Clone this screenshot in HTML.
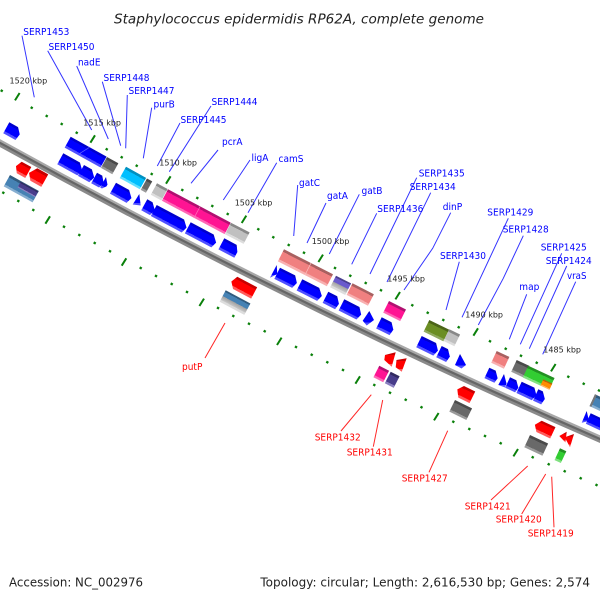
<!DOCTYPE html>
<html><head><meta charset="utf-8"><style>
html,body{margin:0;padding:0;background:#fff;width:600px;height:600px;overflow:hidden}
svg{display:block}
text{font-family:"DejaVu Sans","Liberation Sans",sans-serif}
.b text{font-size:10px;fill:#0000ff}
.r text{font-size:10px;fill:#ff0000}
.k text{font-size:8px;fill:#222}
</style></head><body>
<svg xmlns="http://www.w3.org/2000/svg" width="600" height="600" viewBox="0 0 600 600">
<defs>
<linearGradient id="bl" x1="0" y1="0" x2="0" y2="1"><stop offset=".2" stop-color="#0000cc"/><stop offset=".2" stop-color="#0000ff"/><stop offset=".8" stop-color="#0000ff"/><stop offset=".8" stop-color="#5050ff"/></linearGradient>
<linearGradient id="re" x1="0" y1="0" x2="0" y2="1"><stop offset=".2" stop-color="#c80000"/><stop offset=".2" stop-color="#ff0000"/><stop offset=".8" stop-color="#ff0000"/><stop offset=".8" stop-color="#ff5a5a"/></linearGradient>
<linearGradient id="pi" x1="0" y1="0" x2="0" y2="1"><stop offset=".2" stop-color="#b01070"/><stop offset=".2" stop-color="#ff1493"/><stop offset=".82" stop-color="#ff1493"/><stop offset=".82" stop-color="#ff66b5"/></linearGradient>
<linearGradient id="sa" x1="0" y1="0" x2="0" y2="1"><stop offset=".2" stop-color="#a86060"/><stop offset=".2" stop-color="#f08080"/><stop offset=".82" stop-color="#f08080"/><stop offset=".82" stop-color="#f8b0b0"/></linearGradient>
<linearGradient id="lg" x1="0" y1="0" x2="0" y2="1"><stop offset=".2" stop-color="#888"/><stop offset=".2" stop-color="#c0c0c0"/><stop offset=".82" stop-color="#c0c0c0"/><stop offset=".82" stop-color="#ddd"/></linearGradient>
<linearGradient id="dg" x1="0" y1="0" x2="0" y2="1"><stop offset=".2" stop-color="#4a4a4a"/><stop offset=".2" stop-color="#696969"/><stop offset=".82" stop-color="#696969"/><stop offset=".82" stop-color="#9a9a9a"/></linearGradient>
<linearGradient id="cy" x1="0" y1="0" x2="0" y2="1"><stop offset=".2" stop-color="#0090c0"/><stop offset=".2" stop-color="#00bfff"/><stop offset=".82" stop-color="#00bfff"/><stop offset=".82" stop-color="#60dfff"/></linearGradient>
<linearGradient id="ol" x1="0" y1="0" x2="0" y2="1"><stop offset=".2" stop-color="#4b6418"/><stop offset=".2" stop-color="#6b8e23"/><stop offset=".82" stop-color="#6b8e23"/><stop offset=".82" stop-color="#90aa60"/></linearGradient>
<linearGradient id="gr" x1="0" y1="0" x2="0" y2="1"><stop offset=".2" stop-color="#239023"/><stop offset=".2" stop-color="#32cd32"/><stop offset=".82" stop-color="#32cd32"/><stop offset=".82" stop-color="#80e080"/></linearGradient>
<linearGradient id="or" x1="0" y1="0" x2="0" y2="1"><stop offset=".2" stop-color="#b86500"/><stop offset=".2" stop-color="#ff8c00"/><stop offset=".8" stop-color="#ff8c00"/><stop offset=".8" stop-color="#ffb860"/></linearGradient>
<linearGradient id="st" x1="0" y1="0" x2="0" y2="1"><stop offset=".14" stop-color="#315b7e"/><stop offset=".14" stop-color="#4682b4"/><stop offset=".5" stop-color="#4682b4"/><stop offset=".5" stop-color="#a0a0a0"/><stop offset=".82" stop-color="#c8c8c8"/><stop offset=".82" stop-color="#ddd"/></linearGradient>
<linearGradient id="ss" x1="0" y1="0" x2="0" y2="1"><stop offset=".2" stop-color="#315b7e"/><stop offset=".2" stop-color="#4682b4"/><stop offset=".82" stop-color="#4682b4"/><stop offset=".82" stop-color="#86aed0"/></linearGradient>
<linearGradient id="pu" x1="0" y1="0" x2="0" y2="1"><stop offset=".2" stop-color="#322b61"/><stop offset=".2" stop-color="#483d8b"/><stop offset=".82" stop-color="#483d8b"/><stop offset=".82" stop-color="#8a80c0"/></linearGradient>
<linearGradient id="pg" x1="0" y1="0" x2="0" y2="1"><stop offset=".14" stop-color="#4a3f90"/><stop offset=".14" stop-color="#6a5acd"/><stop offset=".5" stop-color="#6a5acd"/><stop offset=".5" stop-color="#a0a0a0"/><stop offset=".82" stop-color="#c8c8c8"/><stop offset=".82" stop-color="#ddd"/></linearGradient>
</defs>

<text x="114" y="23.5" font-size="13.5" font-style="italic" textLength="370" lengthAdjust="spacingAndGlyphs" fill="#222">Staphylococcus epidermidis RP62A, complete genome</text>

<!-- backbone -->
<path d="M-2 139.5Q300 306.5 602 437.5" fill="none" stroke="#a8a8a8" stroke-width="2.6"/>
<path d="M-2 142Q300 309 602 440" fill="none" stroke="#666" stroke-width="2.6"/>
<path d="M-2 144.5Q300 311.5 602 442.5" fill="none" stroke="#8a8a8a" stroke-width="2.6"/>

<!-- rulers -->
<g fill="none" stroke="#0a800a">
<path stroke-width="2.4" d="M1.1 91.7l1.2-2M31.1 108.7l1.2-2M46.1 117l1.2-2M61.1 125l1.2-2M76.1 133.7l1.2-2M106.1 150.3l1.2-2M121.1 158.3l1.2-2M136.1 166.7l1.2-2M151.1 175l1.2-2M181.7 191l1.2-2M196.7 199l1.2-2M211.7 207l1.2-2M227.1 215l1.2-2M257.7 230.3l1.2-2M272.7 238.3l1.2-2M288.1 246l1.2-2M303.4 253.7l1.2-2M334.4 269l1.2-2M349.7 276.7l1.2-2M365.1 284l1.2-2M380.4 291.3l1.2-2M411.7 306.3l1.2-2M427.1 313.7l1.2-2M442.7 321l1.2-2M458.1 328.3l1.2-2M489.4 342.3l1.2-2M505.1 349.7l1.2-2M520.4 356.7l1.2-2M536.1 363.7l1.2-2M567.7 377.7l1.2-2M583.1 384.7l1.2-2M598.4 391.5l1.2-2"/>
<path stroke-width="2.4" d="M2.7 193.7l1.2-2M17.7 202l1.2-2M32.7 211l1.2-2M63.4 227.7l1.2-2M78.7 236l1.2-2M94.1 244l1.2-2M109.4 252.3l1.2-2M140.1 269l1.2-2M155.4 277l1.2-2M171.1 285l1.2-2M186.4 293l1.2-2M217.4 309l1.2-2M232.7 317l1.2-2M248.4 324.7l1.2-2M264.1 332.3l1.2-2M295.4 348l1.2-2M311.1 355.7l1.2-2M326.7 363.3l1.2-2M342.4 371l1.2-2M373.7 386l1.2-2M389.4 393.7l1.2-2M405.1 400.7l1.2-2M420.9 408.3l1.2-2M452.7 422.7l1.2-2M468.7 430l1.2-2M484.4 437l1.2-2M500.1 444.3l1.2-2M532.1 458.3l1.2-2M548.1 465.3l1.2-2M564.1 472.3l1.2-2M580.1 479.3l1.2-2M595.9 486l1.2-2"/>
<path stroke-width="2" d="M15 100.4l4.6-7.4M90.4 142.7l4.6-7.4M166 183.7l4.6-7.4M241.7 223l4.6-7.4M318.4 262l4.6-7.4M395.4 299.4l4.6-7.4M473.4 335.7l4.6-7.4M551 371.4l4.6-7.4"/>
<path stroke-width="2" d="M45.4 223.7l4.6-7.4M121.7 265.7l4.6-7.4M199.4 306l4.6-7.4M277 345l4.6-7.4M355.4 383.7l4.6-7.4M434 420.4l4.6-7.4M513.4 456.4l4.6-7.4"/>
</g>

<!-- genes, top row -->
<g>
<path transform="translate(9.3,122.3) rotate(29)" d="M0 0H10L15 5.5 14 12.5H0Z" fill="url(#bl)"/>
<path transform="translate(70.7,136.7) rotate(29)" d="M0 0H41V12.5H0Z" fill="url(#bl)"/>
<path transform="translate(90,147) rotate(29)" d="M0 0L-6 11" stroke="#6a6aff" stroke-width=".7" fill="none"/>
<path transform="translate(107,157) rotate(29)" d="M0 0H13V12.5H0Z" fill="url(#dg)"/>
<path transform="translate(126,166.7) rotate(29)" d="M0 0H23V13H0Z" fill="url(#cy)"/>
<path transform="translate(147,178.5) rotate(29)" d="M0 0H6V13H0Z" fill="url(#dg)"/>
<path transform="translate(157,183.3) rotate(28.5)" d="M0 0H12V13H0Z" fill="url(#lg)"/>
<path transform="translate(168,189.3) rotate(28)" d="M0 0H71V13H0Z" fill="url(#pi)"/>
<path d="M200 206.7L194 218" stroke="#ff77bb" stroke-width=".7" fill="none"/>
<path transform="translate(231,222.7) rotate(27.5)" d="M0 0H21V13H0Z" fill="url(#lg)"/>
<path transform="translate(284,249.3) rotate(27)" d="M0 0H55V13.5H0Z" fill="url(#sa)"/>
<path d="M311 263L305 275" stroke="#f8c0c0" stroke-width=".7" fill="none"/>
<path transform="translate(336,275.7) rotate(27)" d="M0 0H17V13H0Z" fill="url(#pg)"/>
<path transform="translate(352.5,283.3) rotate(27)" d="M0 0H24V13H0Z" fill="url(#sa)"/>
<path transform="translate(389,301) rotate(26.5)" d="M0 0H19V13H0Z" fill="url(#pi)"/>
<path transform="translate(429.3,320) rotate(26)" d="M0 0H22V13H0Z" fill="url(#ol)"/>
<path transform="translate(449.3,329.3) rotate(26)" d="M0 0H12V13H0Z" fill="url(#lg)"/>
<path transform="translate(496.7,351) rotate(25)" d="M0 0H14V13H0Z" fill="url(#sa)"/>
<path transform="translate(516.7,360) rotate(25)" d="M0 0H14V13H0Z" fill="url(#dg)"/>
<path transform="translate(528.3,365.7) rotate(25)" d="M0 0H29V6.5H20V13H0Z" fill="url(#gr)"/>
<path transform="translate(543.3,379.3) rotate(25)" d="M0 0H10V7H0Z" fill="url(#or)"/>
<path transform="translate(595,394.3) rotate(25)" d="M0 0H30V13H0Z" fill="url(#ss)"/>
<path transform="translate(595,394.3) rotate(25)" d="M0 0H2V13H0Z" fill="#777"/>

<!-- blue row -->
<g fill="url(#bl)">
<path transform="translate(63.3,153.3) rotate(29)" d="M0 0H19L25 6 23 12.5H0Z"/>
<path transform="translate(84,165) rotate(29)" d="M0 0H9L15 6 13 12.5H0Z"/>
<path transform="translate(97,172.7) rotate(29)" d="M0 0H6L11 6 9 12H0Z"/>
<path transform="translate(106,177) rotate(29)" d="M0 0L5 6 5 8 2 12H0Z"/>
<path transform="translate(116,182.7) rotate(29)" d="M0 0H15L21 6 19 12.5H0Z"/>
<path d="M139.3 194L132.7 204.5 140.7 205.5Z"/>
<path transform="translate(147.3,199.3) rotate(29)" d="M0 0H6L12 6 10 12.5H0Z"/>
<path transform="translate(156.7,205) rotate(28)" d="M0 0H31L37 6 35 12.5H0Z"/>
<path transform="translate(190.7,222.3) rotate(28)" d="M0 0H26L32 6 30 12.5H0Z"/>
<path transform="translate(224.3,238.3) rotate(28)" d="M0 0H14L18 6 18 12.5H0Z"/>
<path d="M276.7 265L277.3 274 270 277.7Z"/>
<path transform="translate(280,267.7) rotate(27)" d="M0 0H17L22 6 20 12.5H0Z"/>
<path transform="translate(302.3,279.3) rotate(27)" d="M0 0H19L25 6 23 12.5H0Z"/>
<path transform="translate(328.3,291.7) rotate(27)" d="M0 0H10L15 6 14 12.5H0Z"/>
<path transform="translate(344.3,299.3) rotate(27)" d="M0 0H17L22 6 20 12.5H0Z"/>
<path d="M369.3 311L374 320 366.7 325.5 362.7 320.7Z"/>
<path transform="translate(381.7,317.3) rotate(26.5)" d="M0 0H11L16 6 15 12.5H0Z"/>
<path transform="translate(421.7,336) rotate(26)" d="M0 0H16L21 6 19 12.5H0Z"/>
<path transform="translate(441.7,346) rotate(26)" d="M0 0H7L12 6 11 12.5H0Z"/>
<path d="M460 354L466 365 461.5 368.5 455 365Z"/>
<path transform="translate(489.3,367.7) rotate(25)" d="M0 0H7L12 6 11 11.5H0Z"/>
<path d="M504 374L506.5 383.5 505 387.5 498.3 385Z"/>
<path transform="translate(510,377.3) rotate(25)" d="M0 0H7L12 6 11 11.5H0Z"/>
<path transform="translate(521.7,381.7) rotate(25)" d="M0 0H14L19 6 17 12.5H0Z"/>
<path transform="translate(538.3,389.3) rotate(25)" d="M0 0H5L10 6 9 12.5H0Z"/>
<path d="M586.7 411L589 421 581.7 422.7Z"/>
<path transform="translate(590.7,413.3) rotate(25)" d="M0 0H30V11.5H0Z"/>
</g>

<!-- lower strand -->
<path transform="translate(21.7,161.7) rotate(29)" d="M0 0H11V12.5H1.3L-2.9 6.6Z" fill="url(#re)"/>
<path transform="translate(37.3,168.3) rotate(29)" d="M0 0H12.5V14.3H0L-5 8Z" fill="url(#re)"/>
<path transform="translate(10,175) rotate(29)" d="M0 0H33V13H0Z" fill="url(#ss)"/>
<path transform="translate(20.7,181.7) rotate(29)" d="M0 0H20V6.5H0Z" fill="url(#pu)"/>
<path transform="translate(237.3,276.7) rotate(28)" d="M0 0H22.5V12.8H2L-3 7Z" fill="url(#re)"/>
<path transform="translate(225.7,290.3) rotate(28)" d="M0 0H28V13H0Z" fill="url(#st)"/>
<path d="M385 355L395.7 352.3 391.7 366.7 384.3 360Z" fill="url(#re)"/>
<path d="M396.5 360L406.7 358.3 401.7 371.7 395.7 367.3Z" fill="url(#re)"/>
<path transform="translate(379.3,365.7) rotate(27)" d="M0 0H11V13H0Z" fill="url(#pi)"/>
<path transform="translate(390.7,371.7) rotate(27)" d="M0 0H10V13H0Z" fill="url(#pu)"/>
<path transform="translate(464,386) rotate(26)" d="M0 0H12.5V13H0L-4.5 6Z" fill="url(#re)"/>
<path transform="translate(455,400) rotate(26)" d="M0 0H19V13H0Z" fill="url(#dg)"/>
<path transform="translate(541.7,420.7) rotate(25)" d="M0 0H15.2V12.5H0L-4.5 6.5Z" fill="url(#re)"/>
<path transform="translate(530,435) rotate(25)" d="M0 0H20V13.5H0Z" fill="url(#dg)"/>
<path d="M566.7 431.7L565.5 442.5 559.3 436Z" fill="url(#re)"/>
<path d="M574 434L570 447.3 564.7 437.3Z" fill="url(#re)"/>
<path transform="translate(560,448.3) rotate(25)" d="M0 0H7V13H0Z" fill="url(#gr)"/>
</g>

<!-- connectors -->
<g fill="none" stroke="#0000ff" stroke-width="1" opacity=".8">
<path d="M22 35.7L34.3 97.3M47.7 50.7L91.7 130M76.7 66L108.3 139M102.3 81.7L120.7 145.7M127.3 95L125.7 148.3M151.7 107.7L143.3 158.3M180 123L157.3 166M211 106L169.3 171.7M218 150L191 183.3M250 160L223.3 200M276.7 162.7L248 212.7M297.7 185L293.7 236M326 203L307 243M359.3 194.3L329.3 254M376.7 213.3L351.7 264.3M416.7 177.7L370 274M430.7 192.7L387 282M450.7 212.7L432.7 248.3L404 290M459.3 261.7L446 310M508.3 218.3L462 317.3M523.3 235.7L503.3 278.3L478.3 325M526.7 294.3L509.3 339.3M561.7 253.3L520.3 344.3M566.7 266L529.3 348.7M575.7 281.7L542.7 354.3"/>
</g>
<g fill="none" stroke="#ff0000" stroke-width="1" opacity=".85">
<path d="M225 323L205 358M371.3 394.7L341 431M382.7 400L373.3 446.7M447.7 430.7L429 472.3M527.7 466L491 500M545.7 474L521.7 514M551.7 476.7L554 527.3"/>
</g>

<!-- ruler labels -->
<g class="k">
<text x="9.5" y="83.5">1520 kbp</text>
<text x="83.3" y="125.7">1515 kbp</text>
<text x="159.3" y="165.7">1510 kbp</text>
<text x="234.7" y="205.7">1505 kbp</text>
<text x="311.7" y="244">1500 kbp</text>
<text x="387.3" y="281.7">1495 kbp</text>
<text x="465.3" y="317.7">1490 kbp</text>
<text x="543.3" y="352.7">1485 kbp</text>
</g>

<!-- blue labels -->
<g class="b" lengthAdjust="spacingAndGlyphs">
<text x="23.3" y="35" textLength="46" lengthAdjust="spacingAndGlyphs">SERP1453</text>
<text x="48.5" y="50" textLength="46" lengthAdjust="spacingAndGlyphs">SERP1450</text>
<text x="78" y="65.5" textLength="22.5" lengthAdjust="spacingAndGlyphs">nadE</text>
<text x="103.5" y="81" textLength="46" lengthAdjust="spacingAndGlyphs">SERP1448</text>
<text x="128.5" y="94" textLength="46" lengthAdjust="spacingAndGlyphs">SERP1447</text>
<text x="153.5" y="107.7" textLength="21.3" lengthAdjust="spacingAndGlyphs">purB</text>
<text x="211.5" y="105" textLength="46" lengthAdjust="spacingAndGlyphs">SERP1444</text>
<text x="180.5" y="123" textLength="46" lengthAdjust="spacingAndGlyphs">SERP1445</text>
<text x="222" y="145" textLength="20.5" lengthAdjust="spacingAndGlyphs">pcrA</text>
<text x="251.5" y="161" textLength="17" lengthAdjust="spacingAndGlyphs">ligA</text>
<text x="278.5" y="162" textLength="25" lengthAdjust="spacingAndGlyphs">camS</text>
<text x="299" y="186" textLength="21" lengthAdjust="spacingAndGlyphs">gatC</text>
<text x="327" y="199" textLength="21" lengthAdjust="spacingAndGlyphs">gatA</text>
<text x="361.5" y="194" textLength="21" lengthAdjust="spacingAndGlyphs">gatB</text>
<text x="377.3" y="212" textLength="46" lengthAdjust="spacingAndGlyphs">SERP1436</text>
<text x="418.7" y="176.5" textLength="46" lengthAdjust="spacingAndGlyphs">SERP1435</text>
<text x="409.7" y="190" textLength="46" lengthAdjust="spacingAndGlyphs">SERP1434</text>
<text x="442.7" y="210" textLength="19.5" lengthAdjust="spacingAndGlyphs">dinP</text>
<text x="440" y="259" textLength="46" lengthAdjust="spacingAndGlyphs">SERP1430</text>
<text x="487.3" y="215.7" textLength="46" lengthAdjust="spacingAndGlyphs">SERP1429</text>
<text x="502.7" y="232.7" textLength="46" lengthAdjust="spacingAndGlyphs">SERP1428</text>
<text x="540.7" y="250.7" textLength="46" lengthAdjust="spacingAndGlyphs">SERP1425</text>
<text x="545.7" y="264" textLength="46" lengthAdjust="spacingAndGlyphs">SERP1424</text>
<text x="567" y="279" textLength="19.5" lengthAdjust="spacingAndGlyphs">vraS</text>
<text x="519.3" y="290" textLength="20" lengthAdjust="spacingAndGlyphs">map</text>
</g>

<!-- red labels -->
<g class="r">
<text x="182" y="370" textLength="20.4" lengthAdjust="spacingAndGlyphs">putP</text>
<text x="314.7" y="440.7" textLength="46" lengthAdjust="spacingAndGlyphs">SERP1432</text>
<text x="346.7" y="455.7" textLength="46" lengthAdjust="spacingAndGlyphs">SERP1431</text>
<text x="401.7" y="481.7" textLength="46" lengthAdjust="spacingAndGlyphs">SERP1427</text>
<text x="464.7" y="509.7" textLength="46" lengthAdjust="spacingAndGlyphs">SERP1421</text>
<text x="495.7" y="522.7" textLength="46" lengthAdjust="spacingAndGlyphs">SERP1420</text>
<text x="527.7" y="536.7" textLength="46" lengthAdjust="spacingAndGlyphs">SERP1419</text>
</g>

<text x="9" y="586.5" font-size="12" textLength="134" lengthAdjust="spacingAndGlyphs" fill="#222">Accession: NC_002976</text>
<text x="590" y="586.5" font-size="12" text-anchor="end" fill="#222">Topology: circular; Length: 2,616,530 bp; Genes: 2,574</text>
</svg>
</body></html>
